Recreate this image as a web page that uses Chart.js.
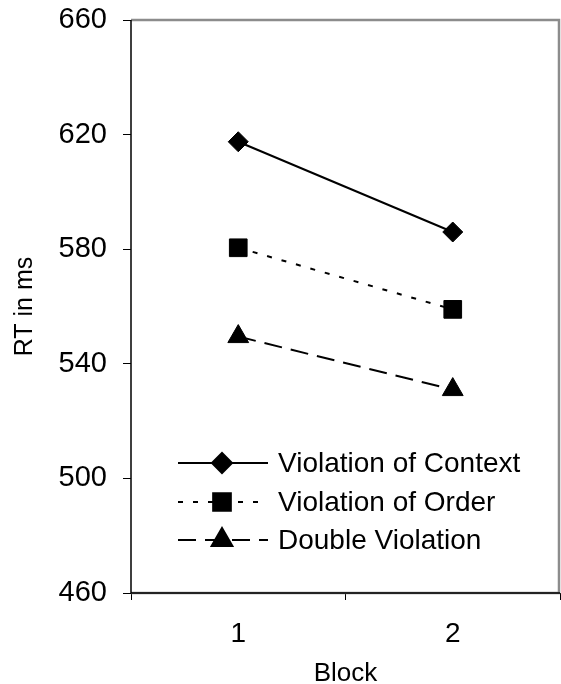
<!DOCTYPE html>
<html>
<head>
<meta charset="utf-8">
<script src="https://cdn.jsdelivr.net/npm/chart.js@4"></script>
<style>
  html, body { margin: 0; padding: 0; background: #ffffff; overflow: hidden; }
  #wrap { width: 561px; height: 684px; position: relative; overflow: hidden; }
  canvas { display: block; }
</style>
</head>
<body>
<div id="wrap"><canvas id="c" width="561" height="684" style="width:561px;height:684px"></canvas></div>
<script>
// ---- data ----
const categories = ['1', '2'];
const contextValues = [617.5, 586];
const orderValues = [580.5, 559];
const doubleValues = [549.5, 531];
const seriesLabels = ['Violation of Context', 'Violation of Order', 'Double Violation'];
const yTicks = [460, 500, 540, 580, 620, 660];
const xTitle = 'Block';
const yTitle = 'RT in ms';

const FONT = "'Liberation Sans', Arial, sans-serif";

const frame = {
  id: 'frame',
  beforeDatasetsDraw(chart) {
    const {ctx, chartArea: a} = chart;
    ctx.save();
    ctx.strokeStyle = '#8c8c8c';
    ctx.lineWidth = 2.5;
    ctx.beginPath();
    ctx.moveTo(a.left, a.top);
    ctx.lineTo(a.right - 1, a.top);
    ctx.lineTo(a.right - 1, a.bottom);
    ctx.lineTo(a.left, a.bottom);
    ctx.stroke();
    ctx.strokeStyle = '#000';
    ctx.lineWidth = 1.5;
    ctx.beginPath();
    ctx.moveTo(a.left, a.top);
    ctx.lineTo(a.left, a.bottom);
    ctx.lineTo(a.right, a.bottom);
    ctx.stroke();
    ctx.restore();
  }
};

const insideLegend = {
  id: 'insideLegend',
  afterDraw(chart) {
    const ctx = chart.ctx;
    const rowsY = [463, 502, 540];
    const x0 = 178, x1 = 268, xm = 222, xt = 278;
    chart.data.datasets.forEach((ds, i) => {
      const y = rowsY[i];
      ctx.save();
      ctx.strokeStyle = '#000';
      ctx.lineWidth = 2;
      ctx.setLineDash(ds.borderDash || []);
      ctx.beginPath();
      ctx.moveTo(x0, y);
      ctx.lineTo(x1, y);
      ctx.stroke();
      ctx.setLineDash([]);
      ctx.fillStyle = '#000';
      Chart.helpers.drawPoint(ctx, {
        pointStyle: ds.pointStyle, radius: ds.pointRadius, borderWidth: 1, rotation: 0
      }, xm, y);
      ctx.font = '28px ' + FONT;
      ctx.textBaseline = 'middle';
      ctx.textAlign = 'left';
      ctx.fillText(ds.label, xt, y + 1);
      ctx.restore();
    });
  }
};

new Chart(document.getElementById('c'), {
  type: 'line',
  data: {
    labels: categories,
    datasets: [
      { label: seriesLabels[0], data: contextValues, borderColor: '#000', backgroundColor: '#000',
        borderWidth: 2, pointStyle: 'rectRot', pointRadius: 10, pointBorderWidth: 1,
        pointBackgroundColor: '#000', pointBorderColor: '#000', borderDash: [] },
      { label: seriesLabels[1], data: orderValues, borderColor: '#000', backgroundColor: '#000',
        borderWidth: 2, pointStyle: 'rect', pointRadius: 12.5, pointBorderWidth: 1,
        pointBackgroundColor: '#000', pointBorderColor: '#000', borderDash: [5, 10] },
      { label: seriesLabels[2], data: doubleValues, borderColor: '#000', backgroundColor: '#000',
        borderWidth: 2, pointStyle: 'triangle', pointRadius: 12, pointBorderWidth: 1,
        pointBackgroundColor: '#000', pointBorderColor: '#000', borderDash: [18, 9] }
    ]
  },
  options: {
    responsive: false,
    animation: false,
    devicePixelRatio: 1,
    layout: { autoPadding: false, padding: { top: 20, right: 1, left: 0, bottom: 0 } },
    plugins: { legend: { display: false }, tooltip: { enabled: false } },
    scales: {
      x: {
        type: 'category',
        offset: true,
        border: { display: false },
        grid: { display: true, offset: true, drawOnChartArea: false, drawTicks: true,
                tickLength: 7, color: '#000', lineWidth: 1 },
        ticks: { color: '#000', font: { family: FONT, size: 28 }, padding: 17, maxRotation: 0 },
        title: { display: true, text: xTitle, color: '#000', font: { family: FONT, size: 26, lineHeight: 1 }, padding: { top: 0, bottom: -3 } },
        afterFit(scale) { scale.height = 91; scale.paddingLeft = 0; scale.paddingRight = 0; }
      },
      y: {
        min: 460, max: 660,
        afterBuildTicks(scale) { scale.ticks = yTicks.map(v => ({ value: v })); },
        border: { display: false },
        grid: { display: true, drawOnChartArea: false, drawTicks: true, tickLength: 8, color: '#000', lineWidth: 1 },
        ticks: { color: '#000', font: { family: FONT, size: 29 }, padding: 16 },
        title: { display: true, text: yTitle, color: '#000', font: { family: FONT, size: 25, lineHeight: 1.2 }, padding: { top: 10, bottom: 0 } },
        afterFit(scale) { scale.width = 131; scale.paddingTop = 0; scale.paddingBottom = 0; }
      }
    }
  },
  plugins: [frame, insideLegend]
});
</script>
</body>
</html>
